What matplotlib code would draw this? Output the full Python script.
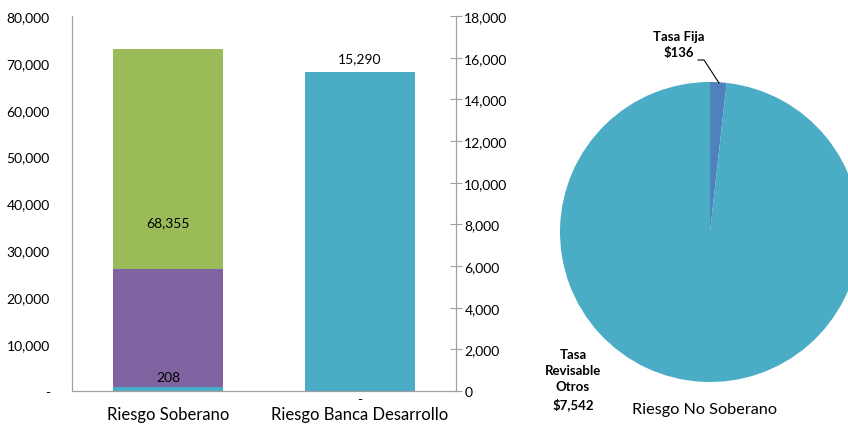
import matplotlib.pyplot as plt
from matplotlib.ticker import FuncFormatter

# datos
categorias = ["Riesgo Soberano", "Riesgo Banca Desarrollo"]
soberano_tramos = [800, 25270, 46890]          # azul, morado, verde (eje izq.)
soberano_colores = ["#4BACC6", "#8064A2", "#9BBB59"]
soberano_etiquetas = ["208", "68,355"]
banca_valor = 15290                             # eje der.
banca_etiquetas = ["15,290", "-"]
pie_valores = [136, 7542]
pie_nombres = ["Tasa Fija\n$136", "Tasa\nRevisable\nOtros\n$7,542"]
pie_colores = ["#4F81BD", "#4BACC6"]

plt.rcParams['font.family'] = ['Lato', 'DejaVu Sans']
W, H = 848, 427
fig = plt.figure(figsize=(W / 100, H / 100), dpi=100)


def px(x0, y0, x1, y1):
    # caja en pixeles (origen arriba a la izquierda) -> coordenadas de figura
    return [x0 / W, 1 - y1 / H, (x1 - x0) / W, (y1 - y0) / H]


ax = fig.add_axes(px(72, 17, 456, 392))
ax2 = ax.twinx()
ancho = 0.573

base = 0
for v, c in zip(soberano_tramos, soberano_colores):
    ax.bar(0, v, ancho, bottom=base, color=c, zorder=2)
    base += v
ax2.bar(1, banca_valor, ancho, color="#4BACC6", zorder=2)

ax.set_xlim(-0.5, 1.5)
ax.set_ylim(0, 80000)
ax2.set_ylim(0, 18000)
ax.set_yticks(range(0, 80001, 10000))
ax2.set_yticks(range(0, 18001, 2000))
ax.yaxis.set_major_formatter(FuncFormatter(lambda v, p: "-" if v == 0 else f"{v:,.0f}"))
ax2.yaxis.set_major_formatter(FuncFormatter(lambda v, p: f"{v:,.0f}"))
ax.set_xticks([0, 1])
ax.set_xticklabels(categorias, fontsize=12)
ax.tick_params(axis="x", length=0, pad=11)
ax.tick_params(axis="y", length=0, labelsize=10, pad=16)
ax2.tick_params(axis="y", direction="inout", length=8, color="#A0A0A0", labelsize=10, pad=2)

for a in (ax, ax2):
    a.spines["top"].set_visible(False)
    for s in ("left", "right", "bottom"):
        a.spines[s].set_color("#A0A0A0")

ax.text(0, soberano_tramos[0] + 2200, soberano_etiquetas[0], ha="center", va="center", fontsize=10)
ax.text(0, 36000, soberano_etiquetas[1], ha="center", va="center", fontsize=10)
ax2.text(1, banca_valor + 700, banca_etiquetas[0], ha="center", va="center", fontsize=10)
ax2.text(1, -400, banca_etiquetas[1], ha="center", va="center", fontsize=10)

# pastel
axp = fig.add_axes(px(560, 83, 860, 383))
axp.pie(pie_valores, colors=pie_colores, startangle=90, counterclock=False,
        radius=1, wedgeprops=dict(linewidth=0))
axp.set_xlim(-1, 1)
axp.set_ylim(-1, 1)
axp.set_aspect("equal")
axp.axis("off")

fig.text(679 / W, 1 - 45 / H, pie_nombres[0], ha="center", va="center",
         fontsize=9.5, fontweight="bold", linespacing=1.4)
fig.text(573 / W, 1 - 380 / H, pie_nombres[1], ha="center", va="center",
         fontsize=9.5, fontweight="bold", linespacing=1.4)
fig.add_artist(plt.Line2D([698 / W, 704 / W, 719 / W],
                          [1 - 61 / H, 1 - 61 / H, 1 - 84 / H],
                          color="black", linewidth=0.8))
fig.text(705 / W, 1 - 410 / H, "Riesgo No Soberano", ha="center", va="center", fontsize=11.7)

fig.savefig("out.png", dpi=100)
